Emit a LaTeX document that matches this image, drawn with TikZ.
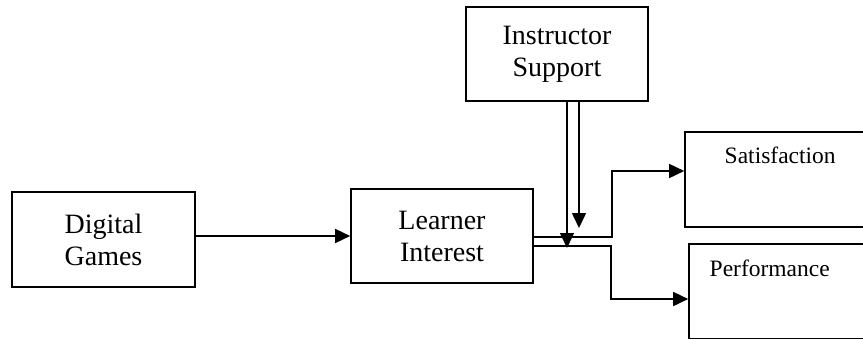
\documentclass[tikz,border=0pt]{standalone}
\usepackage{fontspec}
\setmainfont{Liberation Serif}
\usepackage{tikz}
\usetikzlibrary{arrows.meta}

\begin{document}
\begin{tikzpicture}[x=1pt, y=-1pt,
  block/.style={draw, line width=1.6pt, align=center, inner sep=0pt,
    minimum width=182pt, minimum height=94pt, font=\fontsize{28}{32}\selectfont},
  outcome/.style={draw, line width=1.6pt, inner sep=0pt,
    minimum width=200pt, minimum height=95pt},
  caption/.style={anchor=base west, font=\fontsize{23.5}{27}\selectfont},
  arrow/.style={-{Triangle[length=15pt,width=14pt]}, line width=1.6pt}
]
\useasboundingbox (0,0) rectangle (863,338);
\clip (0,0) rectangle (863,338);

\node[block, minimum width=183pt, minimum height=95pt] (games) at (103.5,239.5) {Digital\\Games};
\node[block] (interest) at (442,236) {Learner\\Interest};
\node[block] (support) at (557,54) {Instructor\\Support};

\node[outcome, label={[caption, xshift=37pt, yshift=-32pt]north west:Satisfaction}]
  (satisf) at (785,179.5) {};
\node[outcome, label={[caption, xshift=18pt, yshift=-33pt]north west:Performance}]
  (perform) at (789,291.5) {};

\coordinate (join) at (567,248);
\coordinate (tip) at (579,228);

\draw[arrow] (games.east |- interest.west) -- (interest.west);

\draw[arrow] ([xshift=10pt]support.south) -- (join);
\draw[arrow] ([xshift=22pt]support.south) -- (tip);

\draw[arrow] ([yshift=-1pt]interest.east) -- ++(78,0) |- ([yshift=8.5pt]satisf.west);
\draw[arrow] ([yshift=-10pt]interest.east) -- ++(77,0) |- ([yshift=-7.5pt]perform.west);

\end{tikzpicture}
\end{document}
